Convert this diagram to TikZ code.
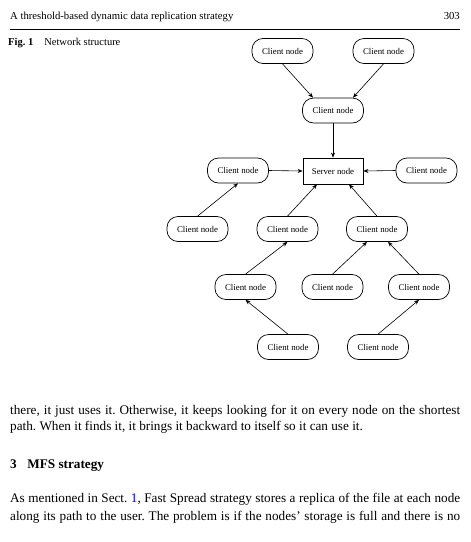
\documentclass[tikz,border=0pt]{standalone}
\usepackage{fontspec}
\setmainfont{Liberation Serif}
\usetikzlibrary{arrows.meta}
\frenchspacing
\begin{document}
\begin{tikzpicture}[x=1pt,y=-1pt,
  client/.style={draw, rounded corners=11pt, minimum width=61pt, minimum height=25pt, inner sep=0pt, line width=0.7pt, font=\fontsize{8.8}{10}\selectfont},
  server/.style={draw, minimum width=60pt, minimum height=26pt, inner sep=0pt, line width=0.7pt, font=\fontsize{8.8}{10}\selectfont},
  link/.style={-{Stealth[length=5pt,width=4pt,inset=1.5pt]}, line width=0.6pt},
  txt/.style={anchor=base west, inner sep=0pt, font=\fontsize{13.2}{16}\selectfont}]
\useasboundingbox (0,0) rectangle (471,542);
% header
\node[anchor=base west, inner sep=0pt, font=\fontsize{10.7}{12}\selectfont] (hd) at (10,19.5) {A threshold-based dynamic data replication strategy};
\node[anchor=base east, inner sep=0pt, font=\fontsize{10.7}{12}\selectfont] (pg) at (460,19.5) {303};
\draw[line width=0.6pt] (10,29.5) -- (460,29.5);
\node[anchor=base west, inner sep=0pt, font=\fontsize{10.5}{12}\selectfont] (cap) at (8,45) {\textbf{Fig. 1}\hspace{1.05em}Network structure};
% nodes
\node[client] (tl) at (282.5,51) {Client node};
\node[client] (tr) at (383.5,51) {Client node};
\node[client] (mid) at (333,110.5) {Client node};
\node[server] (srv) at (333,171) {Server node};
\node[client] (lc) at (238,170.5) {Client node};
\node[client] (rc) at (426.5,170.5) {Client node};
\node[client] (llc) at (197.5,229) {Client node};
\node[client] (mlc) at (287.5,229) {Client node};
\node[client] (mrc) at (377,229) {Client node};
\node[client] (r4a) at (245.5,287) {Client node};
\node[client] (r4b) at (332.5,287) {Client node};
\node[client] (r4c) at (419,287) {Client node};
\node[client] (r5a) at (288,347) {Client node};
\node[client] (r5b) at (378,347) {Client node};
% links
\draw[link] (tl.south) -- ([xshift=-20pt]mid.north);
\draw[link] (tr.south) -- ([xshift=20pt]mid.north);
\draw[link] (mid.south) -- (srv.north);
\draw[link] (lc.east) -- (srv.west);
\draw[link] (rc.west) -- (srv.east);
\draw[link] (llc.north) -- (lc.south);
\draw[link] (mlc.north) -- ([xshift=-16pt]srv.south);
\draw[link] (mrc.north) -- ([xshift=16pt]srv.south);
\draw[link] (r4a.north) -- (mlc.south);
\draw[link] (r4b.north) -- ([xshift=-10pt]mrc.south);
\draw[link] (r4c.north) -- ([xshift=11pt]mrc.south);
\draw[link] (r5a.north) -- (r4a.south);
\draw[link] (r5b.north) -- (r4c.south);
% body text
\node[txt] (l1) at (10,414) {\makebox[450pt][s]{there, it just uses it. Otherwise, it keeps looking for it on every node on the shortest}};
\node[txt] (l2) at (10,430) {path. When it finds it, it brings it backward to itself so it can use it.};
\node[txt] (h3) at (10,468) {\textbf{3\hspace{0.8em}MFS strategy}};
\node[txt] (l4) at (10,502) {\makebox[450pt][s]{As mentioned in Sect. \textcolor{blue}{1}, Fast Spread strategy stores a replica of the file at each node}};
\node[txt] (l5) at (10,520) {\makebox[450pt][s]{along its path to the user. The problem is if the nodes' storage is full and there is no}};
\end{tikzpicture}
\end{document}
